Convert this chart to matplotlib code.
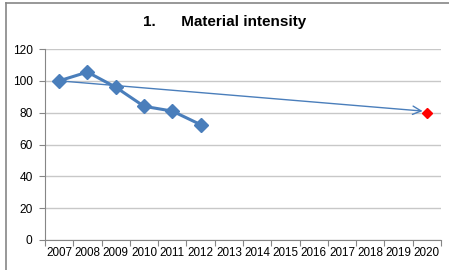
import matplotlib
matplotlib.use("Agg")
import matplotlib.pyplot as plt
import numpy as np

years = [str(y) for y in range(2007, 2021)]
actual_years = ["2007", "2008", "2009", "2010", "2011", "2012"]
actual_values = [100, 105.5, 96, 84, 81, 72.5]
target_year = "2020"
target_value = 80
trend_start = (0.0, 100)      # (category index, value)
trend_end = (12.85, 81)
title = "1.      Material intensity"

plt.rcParams['font.family'] = ['Liberation Sans', 'DejaVu Sans']

fig = plt.figure(figsize=(4.49, 2.70), dpi=100)
ax = fig.add_axes([45/449, 1-240/270, (441-45)/449, (240-49)/270])

idx = {y: i for i, y in enumerate(years)}
blue = '#4A7EBB'
ax.set_ylim(0, 120)
ax.set_xlim(-0.5, len(years) - 0.5)
ax.set_yticks(range(0, 121, 20))
ax.yaxis.grid(True, color='#C8C8C8', linewidth=1.0)
ax.set_axisbelow(True)

ax.plot([idx[y] for y in actual_years], actual_values, color=blue, linewidth=2.2,
        marker='D', markersize=7, zorder=3)
ax.plot([idx[target_year]], [target_value], linestyle='none', marker='D',
        color='#FF0000', markersize=5.5, zorder=4)
ax.annotate('', xy=trend_end, xytext=trend_start,
            arrowprops=dict(arrowstyle='->', color=blue, lw=1.0,
                            shrinkA=0, shrinkB=0, mutation_scale=15), zorder=3)

ax.set_xticks(range(len(years)))
ax.set_xticklabels(years)
ax.set_xticks(np.arange(-0.5, len(years), 1.0), minor=True)
ax.tick_params(axis='x', which='major', length=0, labelsize=8.4, pad=5, colors='#000000')
ax.tick_params(axis='x', which='minor', length=4, color='#868686', width=0.8)
ax.tick_params(axis='y', length=4, color='#868686', width=0.8, labelsize=8.6, pad=5)

for s in ['top', 'right']:
    ax.spines[s].set_visible(False)
for s in ['left', 'bottom']:
    ax.spines[s].set_color('#868686')
    ax.spines[s].set_linewidth(0.8)

fig.text(0.5, 1-22/270, title, ha='center', va='center', fontsize=11, fontweight='bold')

# outer chart frame (left and top edges visible)
fig.add_artist(plt.Line2D([5.5/449, 5.5/449], [0, 1-3/270], color='#868686', lw=1.2, transform=fig.transFigure))
fig.add_artist(plt.Line2D([5.5/449, 1], [1-3/270, 1-3/270], color='#868686', lw=1.2, transform=fig.transFigure))

fig.savefig('out.png', dpi=100)
